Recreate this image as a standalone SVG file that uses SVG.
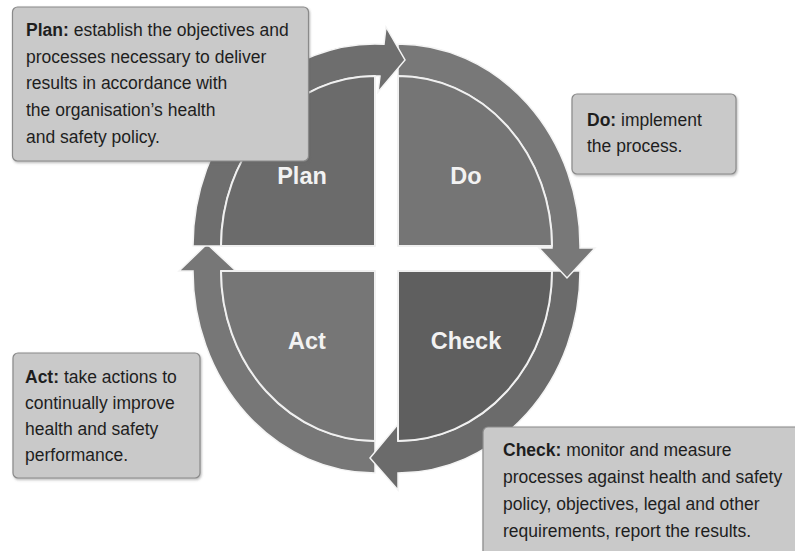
<svg xmlns="http://www.w3.org/2000/svg" width="795" height="551" viewBox="0 0 795 551">
  <defs>
    <filter id="boxShadow" x="-5%" y="-5%" width="110%" height="115%">
      <feDropShadow dx="1" dy="1.5" stdDeviation="1" flood-color="#666" flood-opacity="0.45"/>
    </filter>
    <style>
      .note { fill: #c9c9c9; stroke: #8a8a8a; stroke-width: 1.2; filter: url(#boxShadow); }
      .note-text { font-family: "Liberation Sans", Arial, sans-serif; font-size: 17.5px; fill: #1e1e1e; }
      .note-text .key { font-weight: bold; }
      .quad { stroke: #f0f0f0; stroke-width: 2; stroke-linejoin: round; }
      .ring { stroke: #f4f4f4; stroke-width: 1.5; stroke-linejoin: miter; }
      .quad-label { font-family: "Liberation Sans", Arial, sans-serif; font-size: 23.5px; font-weight: bold; fill: #f2f2f2; text-anchor: middle; }
    </style>
  </defs>

  <rect width="795" height="551" fill="#ffffff"/>

  <!-- curved arrows running round the cycle -->
  <g id="connectors">
    <path id="arrow-act-plan" class="ring" fill="#777777"
          d="M375,473 A182,202 0 0 1 193,271 L179,271 L207,244 L236,271 L221,271 A154,170 0 0 0 375,441 Z"/>
    <path id="arrow-check-act" class="ring" fill="#6b6b6b"
          d="M580,271 A182,202 0 0 1 398,473 L398,490 L370,458 L399,423 L398,441 A154,170 0 0 0 552,271 Z"/>
    <path id="arrow-do-check" class="ring" fill="#787878"
          d="M398,44 A182,202 0 0 1 580,248 L595,248 L567,278 L539,248 L552,248 A154,170 0 0 0 398,76 Z"/>
    <path id="arrow-plan-do" class="ring" fill="#6e6e6e"
          d="M193,246 A182,202 0 0 1 384,44.2 L386,27 L405,60 L378,92 L380,76.1 A154,170 0 0 0 221,246 Z"/>
  </g>

  <!-- the four quadrants -->
  <g id="plan">
    <path class="quad" fill="#6b6b6b" d="M375,246 L221,246 A154,170 0 0 1 375,76 Z"/>
    <text class="quad-label" x="302" y="184">Plan</text>
  </g>
  <g id="do">
    <path class="quad" fill="#757575" d="M398,246 L398,76 A154,170 0 0 1 552,246 Z"/>
    <text class="quad-label" x="466" y="184">Do</text>
  </g>
  <g id="check">
    <path class="quad" fill="#5f5f5f" d="M398,271 L552,271 A154,170 0 0 1 398,441 Z"/>
    <text class="quad-label" x="466" y="349">Check</text>
  </g>
  <g id="act">
    <path class="quad" fill="#767676" d="M375,271 L375,441 A154,170 0 0 1 221,271 Z"/>
    <text class="quad-label" x="307" y="349">Act</text>
  </g>

  <!-- explanatory notes -->
  <g id="note-plan">
    <rect class="note" x="12.5" y="7" width="296" height="154" rx="5"/>
    <text class="note-text" x="26" y="36"><tspan class="key">Plan:</tspan> establish the objectives and</text>
    <text class="note-text" x="26" y="62.7">processes necessary to deliver</text>
    <text class="note-text" x="26" y="89.4">results in accordance with</text>
    <text class="note-text" x="26" y="116.1">the organisation’s health</text>
    <text class="note-text" x="26" y="142.8">and safety policy.</text>
  </g>
  <g id="note-do">
    <rect class="note" x="572" y="94" width="164" height="80" rx="5"/>
    <text class="note-text" x="587" y="126"><tspan class="key">Do:</tspan> implement</text>
    <text class="note-text" x="587" y="152">the process.</text>
  </g>
  <g id="note-act">
    <rect class="note" x="13" y="353" width="187" height="125" rx="5"/>
    <text class="note-text" x="25" y="383"><tspan class="key">Act:</tspan> take actions to</text>
    <text class="note-text" x="25" y="409">continually improve</text>
    <text class="note-text" x="25" y="435">health and safety</text>
    <text class="note-text" x="25" y="461">performance.</text>
  </g>
  <g id="note-check">
    <rect class="note" x="483" y="427" width="330" height="140" rx="5"/>
    <text class="note-text" x="503" y="456"><tspan class="key">Check:</tspan> monitor and measure</text>
    <text class="note-text" x="503" y="483">processes against health and safety</text>
    <text class="note-text" x="503" y="510">policy, objectives, legal and other</text>
    <text class="note-text" x="503" y="537">requirements, report the results.</text>
  </g>
</svg>
